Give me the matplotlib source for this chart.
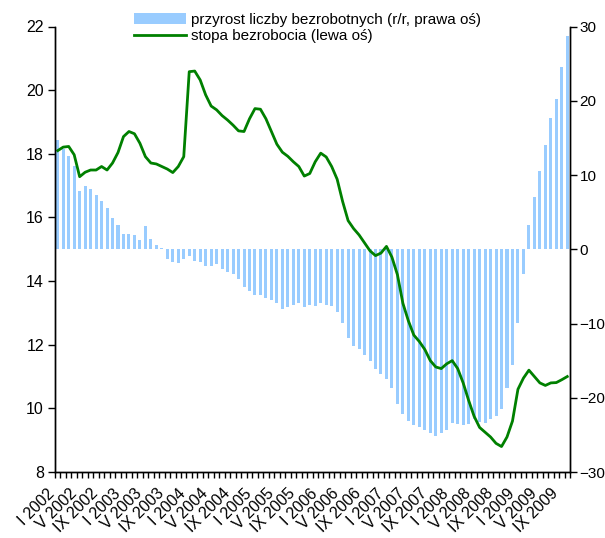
import numpy as np
import matplotlib
matplotlib.use("Agg")
import matplotlib.pyplot as plt
import matplotlib.transforms as mtransforms
from matplotlib.patches import Patch
from matplotlib.lines import Line2D

plt.rcParams["font.family"] = ["Liberation Sans", "DejaVu Sans"]

months = ["I", "II", "III", "IV", "V", "VI", "VII", "VIII", "IX", "X", "XI", "XII"]
years = list(range(2002, 2010))

# monthly, I 2002 .. X 2009
stopa = [
    18.10, 18.21, 18.23, 17.97, 17.28, 17.42, 17.49, 17.49, 17.60, 17.49, 17.71, 18.04,
    18.54, 18.70, 18.63, 18.33, 17.91, 17.71, 17.68, 17.60, 17.52, 17.41, 17.60, 17.91,
    20.58, 20.60, 20.32, 19.85, 19.50, 19.38, 19.20, 19.06, 18.90, 18.72, 18.70, 19.10,
    19.42, 19.40, 19.10, 18.70, 18.30, 18.05, 17.92, 17.75, 17.60, 17.30, 17.38, 17.75,
    18.02, 17.90, 17.60, 17.20, 16.50, 15.90, 15.65, 15.45, 15.20, 14.95, 14.80, 14.88,
    15.09, 14.75, 14.20, 13.30, 12.75, 12.30, 12.10, 11.85, 11.50, 11.30, 11.25, 11.40,
    11.50, 11.25, 10.80, 10.25, 9.75, 9.40, 9.25, 9.10, 8.90, 8.80, 9.10, 9.60,
    10.60, 10.95, 11.20, 11.00, 10.80, 10.72, 10.80, 10.81, 10.90, 11.00,
]

przyrost = [
    14.7, 13.5, 12.5, 11.25, 7.85, 8.5, 8.1, 7.3, 6.5, 5.6, 4.2, 3.3,
    2.05, 2.05, 1.9, 1.3, 3.15, 1.4, 0.6, 0.2, -1.25, -1.65, -1.8, -1.25,
    -0.9, -1.55, -1.65, -2.2, -2.2, -2.05, -2.6, -3.0, -3.4, -3.95, -5.05, -5.6,
    -6.15, -6.15, -6.5, -6.8, -7.3, -8.0, -7.75, -7.45, -7.2, -7.75, -7.45, -7.6,
    -7.3, -7.45, -7.6, -8.5, -9.9, -12.0, -13.0, -13.4, -14.3, -15.1, -16.1, -16.75,
    -17.45, -18.65, -20.9, -22.25, -23.1, -23.7, -24.0, -24.4, -24.7, -25.2, -24.8, -24.4,
    -23.35, -23.6, -23.7, -23.6, -22.9, -23.2, -23.35, -22.9, -22.5, -21.45, -18.65, -15.65,
    -9.9, -3.4, 3.3, 7.05, 10.6, 14.0, 17.7, 20.2, 24.5, 28.7,
]

labels = [f"{m} {y}" for y in years for m in months][:len(stopa)]

bar_color = "#99CCFF"
line_color = "#008000"

fig = plt.figure(figsize=(6.05, 5.38), dpi=100)
ax = fig.add_axes([55 / 605, 66 / 538, 515 / 605, 445.5 / 538])
ax2 = ax.twinx()

x = np.arange(len(stopa))
ax2.bar(x, przyrost, width=0.55, color=bar_color, linewidth=0)
ax.plot(x, stopa, color=line_color, linewidth=2.0, solid_joinstyle="round")

ax.set_zorder(ax2.get_zorder() + 1)
ax.patch.set_visible(False)

ax.set_xlim(-0.5, len(stopa) - 0.5)
ax.set_ylim(8, 22)
ax.set_yticks(range(8, 23, 2))
ax2.set_ylim(-30, 30)
ax2.set_yticks(range(-30, 31, 10))

for a in (ax, ax2):
    a.spines["top"].set_visible(False)
    for s in ("left", "right", "bottom"):
        a.spines[s].set_linewidth(1.0)
        a.spines[s].set_color("black")

ax.tick_params(axis="y", direction="out", length=5, width=1, labelsize=11.5, pad=3)
ax2.tick_params(axis="y", direction="out", length=5, width=1, labelsize=11, pad=2)

# category boundary ticks + labels every 4 months
ax.set_xticks(np.arange(-0.5, len(stopa), 1.0), minor=True)
ax.set_xticks(x[::4])
ax.set_xticklabels(labels[::4], rotation=45, ha="right", va="top",
                   rotation_mode="anchor", fontsize=11.5)
ax.tick_params(axis="x", which="major", length=0, pad=10)
ax.tick_params(axis="x", which="minor", direction="out", length=4, width=1)
shift = mtransforms.ScaledTranslation(-11 / 100, 0, fig.dpi_scale_trans)
for lbl in ax.get_xticklabels():
    lbl.set_transform(lbl.get_transform() + shift)

handles = [
    Patch(facecolor=bar_color, edgecolor="none"),
    Line2D([0], [0], color=line_color, linewidth=2.0),
]
names = ["przyrost liczby bezrobotnych (r/r, prawa oś)", "stopa bezrobocia (lewa oś)"]
fig.legend(handles, names, loc="upper left", bbox_to_anchor=(121 / 605, 1.0),
           frameon=False, fontsize=11, handlelength=3.4, handleheight=0.75,
           handletextpad=0.3, labelspacing=0.15, borderaxespad=0.45)

fig.savefig("out.png", dpi=100)
